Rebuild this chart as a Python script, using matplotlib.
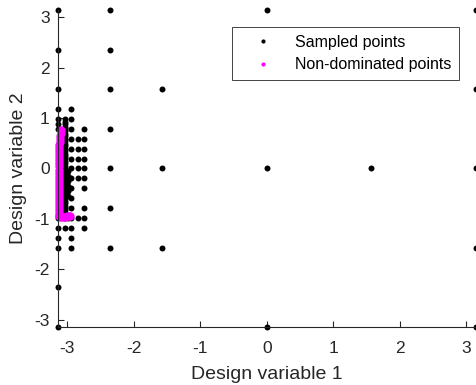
import matplotlib
matplotlib.use("Agg")
from matplotlib import pyplot as plt
from matplotlib.lines import Line2D

plt.rcParams['font.family'] = ['Liberation Sans', 'DejaVu Sans']

# sampled points, grouped by column (design variable 1 value)
col_x = [-3.1416, -3.0434, -2.9943, -2.9452, -2.8471, -2.7489,
         -2.3562, -1.5708, 0.0, 1.5708, 3.1416]
col_y = [
    [3.1416, 2.3562, 1.5708, 1.1781, 0.9817, 0.8836, 0.7854, -0.9817,
     -1.1781, -1.3744, -1.5708, -2.3562, -3.1416],
    [0.98, 0.93, 0.88, 0.83, 0.79, 0.74, 0.69, 0.64, 0.59, 0.54, 0.49,
     0.44, 0.39, 0.34, 0.29, 0.25, 0.20, 0.15, 0.10, 0.05, 0.00, -0.05,
     -0.10, -0.15, -0.20, -0.25, -0.29, -0.34, -0.39, -0.44, -0.49,
     -0.54, -0.59, -0.64, -0.69, -0.74, -0.79, -0.83, -0.88, -0.98, -1.18],
    [-0.05, -0.15, -0.25, -0.34, -0.44, -0.54, -0.98],
    [1.1781, 0.9817, 0.7854, 0.5890, 0.3927, 0.1963, 0.0, -0.1963,
     -0.3927, -0.5890, -0.7854, -0.9817, -1.1781, -1.3744, -1.5708],
    [0.5890, 0.3927, 0.1963, 0.0, -0.1963, -0.9817],
    [0.7854, 0.5890, 0.3927, 0.1963, 0.0, -0.1963, -0.3927, -0.7854,
     -0.9817, -1.1781],
    [3.1416, 2.3562, 1.5708, 0.7854, 0.0, -0.7854, -1.5708],
    [1.5708, 0.0, -1.5708],
    [3.1416, 0.0, -3.1416],
    [0.0],
    [3.1416, 1.5708, 0.0, -1.5708, -3.1416],
]

# non-dominated points
nd_x = [-3.10, -3.10, -3.11, -3.11, -3.11, -3.12, -3.12, -3.12, -3.12, -3.12,
        -3.12, -3.12, -3.13, -3.13, -3.13, -3.13, -3.13, -3.13, -3.13, -3.13,
        -3.13, -3.13, -3.13, -3.13, -3.13, -3.13, -3.13, -3.13, -3.13, -3.13,
        -3.10, -3.07, -3.04, -3.01, -2.98, -2.96]
nd_y = [0.76, 0.70, 0.64, 0.58, 0.52, 0.46, 0.40, 0.34, 0.28, 0.22,
        0.16, 0.10, 0.04, -0.02, -0.08, -0.14, -0.20, -0.26, -0.32, -0.38,
        -0.44, -0.50, -0.56, -0.62, -0.68, -0.74, -0.80, -0.86, -0.92, -0.95,
        -0.96, -0.96, -0.96, -0.95, -0.95, -0.94]

sx = []
sy = []
for x, ys in zip(col_x, col_y):
    for y in ys:
        sx.append(x)
        sy.append(y)

fig = plt.figure(figsize=(4.76, 3.85), dpi=100)
ax = fig.add_axes([58 / 476, 1 - 327 / 385, 417.5 / 476, 317 / 385])

ax.plot(sx, sy, 'o', color='black', markersize=4.3, markeredgewidth=0, clip_on=False)
ax.plot(nd_x, nd_y, 'o', color='magenta', markersize=6, markeredgewidth=0, clip_on=False)

ax.set_xlim(-3.1416, 3.1416)
ax.set_ylim(-3.1416, 3.1416)
ax.set_xticks([-3, -2, -1, 0, 1, 2, 3])
ax.set_yticks([-3, -2, -1, 0, 1, 2, 3])
ax.set_xticklabels(['-3', '-2', '-1', '0', '1', '2', '3'])
ax.set_yticklabels(['-3', '-2', '-1', '0', '1', '2', '3'])
ax.tick_params(direction='in', length=4, width=0.8, labelsize=12.5, colors='#262626')
ax.tick_params(axis='x', pad=10)
ax.tick_params(axis='y', pad=6)
for s in ['top', 'right']:
    ax.spines[s].set_visible(False)
for s in ['left', 'bottom']:
    ax.spines[s].set_color('#262626')
    ax.spines[s].set_linewidth(0.8)

ax.set_xlabel('Design variable 1', fontsize=14, color='#262626', labelpad=7)
ax.set_ylabel('Design variable 2', fontsize=14, color='#262626', labelpad=5)

handles = [Line2D([], [], ls='none', marker='o', color='black', markersize=2),
           Line2D([], [], ls='none', marker='o', color='magenta', markersize=2)]
leg = ax.legend(handles, ['Sampled points', 'Non-dominated points'],
                loc='upper right', bbox_to_anchor=(459 / 476, 1 - 27 / 385),
                bbox_transform=fig.transFigure, borderaxespad=0,
                fontsize=11.5, fancybox=False, framealpha=1,
                handlelength=3.0, handletextpad=0.45, labelspacing=0.47,
                borderpad=0.5)
leg.get_frame().set_edgecolor('#262626')
leg.get_frame().set_linewidth(0.6)

fig.savefig('out.png', dpi=100)
